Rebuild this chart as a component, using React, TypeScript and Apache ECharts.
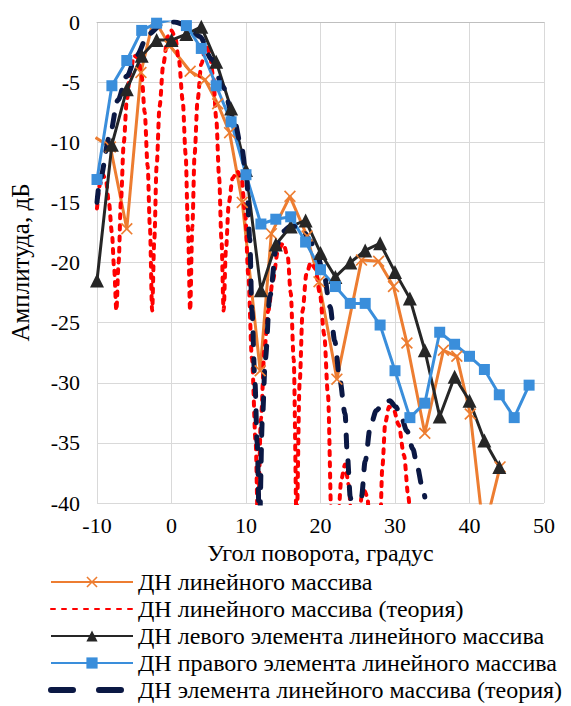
import React, { useEffect, useRef } from "react";
import * as echarts from "echarts";

// ---- Data (angle in degrees, amplitude in dB) ----
const seriesNames = [
  "ДН линейного массива",
  "ДН линейного массива (теория)",
  "ДН левого элемента линейного массива",
  "ДН правого элемента линейного массива",
  "ДН элемента линейного массива (теория)",
];

const xTicks = { min: -10, max: 50, step: 10 };
const yTicks = { min: -40, max: 0, step: 5 };

const arrayMeasured: [number, number][] = [
  [-10.2, -9.6], [-8.2, -10.4], [-6.0, -17.2], [-4.1, -4.2], [-2.4, 0.3],
  [-0.2, -2.0], [2.5, -4.1], [4.5, -4.8], [6.2, -6.8], [7.8, -9.2],
  [9.5, -15.0], [11.9, -29.0], [13.4, -17.6], [15.9, -14.5], [18.2, -17.8],
  [19.8, -21.6], [22.2, -29.7], [25.5, -19.8], [27.8, -19.9], [29.8, -22.0],
  [31.6, -26.7], [34.0, -34.2], [36.5, -27.3], [38.3, -27.8], [40.1, -32.6],
  [41.9, -42.5], [44.1, -37.0],
];

const arrayTheory: [number, number][] = [
  [-10, -15.5], [-9.6, -13.5], [-9.2, -12.7], [-8.8, -13.2], [-8.4, -15], [-8.0, -17.5], [-7.7, -20.5], [-7.4, -24],
  [-7.1, -20], [-6.8, -15], [-6.4, -10], [-6.0, -6.5], [-5.5, -4], [-5.0, -2.8], [-4.5, -3], [-4.0, -4.5], [-3.6, -7.5], [-3.2, -12], [-2.9, -17], [-2.6, -24],
  [-2.3, -18], [-2.0, -12], [-1.6, -7], [-1.1, -3.5], [-0.5, -1.2], [0, -0.7], [0.5, -1.3], [1.0, -3.2], [1.5, -6.5], [1.9, -11], [2.2, -17], [2.5, -24],
  [2.8, -17], [3.1, -11], [3.5, -6.5], [4.0, -3.5], [4.6, -2.0], [5.1, -2.5], [5.6, -4.5], [6.0, -8], [6.4, -13], [6.7, -18], [7.0, -24],
  [7.3, -19], [7.7, -15], [8.2, -13], [8.8, -12.4], [9.4, -13], [9.9, -16], [10.3, -21], [10.8, -28], [11.3, -35], [11.6, -42],
  [12.0, -33], [12.5, -27], [13.0, -24], [13.6, -21.5], [14.3, -19], [15.0, -18.4], [15.6, -19.5], [16.0, -22.5], [16.4, -28], [16.8, -42],
  [17.2, -30], [17.6, -24], [18.1, -21], [18.7, -20], [19.3, -20.5], [19.9, -22.5], [20.5, -26], [21.0, -31], [21.5, -42],
  [22.3, -42], [22.8, -38], [23.3, -36.8], [23.8, -38.5], [24.2, -42],
  [25.2, -42], [25.5, -39.5], [25.9, -39], [26.3, -39.5], [26.6, -42],
  [28.0, -42], [28.3, -37], [28.7, -33.3], [29.2, -32], [29.8, -32.2], [30.5, -33.5], [31.2, -36], [31.8, -39.5], [32.1, -42],
];

const leftElement: [number, number][] = [
  [-10, -21.5], [-8, -10.2], [-6, -5.6], [-4, -2.8], [-2, -1.5], [0, -1.5],
  [2, -1.0], [4, -0.4], [6, -3.3], [8, -7.2], [10, -12.3], [12, -22.3],
  [14, -18.5], [16, -17.0], [18, -16.5], [20, -19.2], [22, -21.2], [24, -20.0],
  [26, -19.0], [28, -18.4], [30, -20.8], [32, -23.0], [34, -27.3], [36, -32.8],
  [38, -29.5], [40, -31.5], [42, -34.8], [44, -37.0],
];

const rightElement: [number, number][] = [
  [-10, -13.1], [-8, -5.3], [-6, -3.2], [-4, -0.7], [-2, -0.1], [0, 0.2],
  [2, -0.3], [4, -2.2], [6, -5.3], [8, -8.3], [10, -12.7], [12, -16.8],
  [14, -16.4], [16, -16.2], [18, -18.3], [20, -20.6], [22, -22.0], [24, -23.4],
  [26, -23.4], [28, -25.2], [30, -29.0], [32, -32.9], [34, -31.7], [36, -25.8],
  [38, -26.8], [40, -27.8], [42, -28.9], [44, -31.0], [46, -32.9], [48, -30.2],
];

const elementTheory: [number, number][] = [
  [-10, -15], [-9.6, -13.1], [-8.3, -9.5], [-7.2, -6.5], [-6, -4.5], [-4.7, -2.8],
  [-3.1, -1.0], [-1.3, -0.2], [0.4, 0], [2.2, -0.3], [3.8, -1.2], [5.4, -3.1],
  [6.9, -5.4], [8.3, -7.9], [9.4, -10.4], [10.1, -13.1], [10.5, -18], [10.8, -24],
  [11.2, -30], [11.5, -35], [11.8, -42], [12.2, -33], [12.6, -28], [13.2, -22.8],
  [14.1, -18.6], [15.0, -17.4], [15.9, -17.0], [16.8, -17.0], [17.7, -17.4], [18.6, -18.2],
  [19.5, -19.3], [20.4, -20.8], [21.3, -23.7], [21.9, -26.5], [22.6, -29.8], [23.3, -32.6],
  [23.6, -36], [24.0, -39.5], [24.4, -42], [25.2, -42], [25.5, -39.5], [26.0, -36.5],
  [26.7, -33.6], [27.5, -32.3], [28.5, -31.6], [29.3, -31.5], [30.1, -32], [30.8, -32.8],
  [31.6, -34], [32.4, -35.5], [33.0, -37], [33.6, -38.5], [34.0, -39.5],
];

const colors = ["#ED7D31", "#FF0000", "#262626", "#3A8EDB", "#0B1844"];

const crossPath =
  "path://M1,0 L5,4 L9,0 L10,1 L6,5 L10,9 L9,10 L5,6 L1,10 L0,9 L4,5 L0,1 Z";

const FONT = "Liberation Serif";

export default function App() {
  const ref = useRef<HTMLDivElement>(null);
  useEffect(() => {
    if (!ref.current) return;
    const chart = echarts.init(ref.current, undefined, { renderer: "svg" });
    chart.setOption({
      animation: false,
      backgroundColor: "#ffffff",
      grid: { left: 97, top: 22, right: 27, bottom: 203 },
      xAxis: {
        type: "value",
        min: xTicks.min,
        max: xTicks.max,
        interval: xTicks.step,
        name: "Угол поворота, градус",
        nameLocation: "middle",
        nameGap: 30,
        nameTextStyle: { fontFamily: FONT, fontSize: 24, color: "#000" },
        axisLine: { show: true, lineStyle: { color: "#bfbfbf", width: 1 } },
        axisTick: { show: false },
        axisLabel: { fontFamily: FONT, fontSize: 22, color: "#000", margin: 11 },
        splitLine: { show: true, lineStyle: { color: "#d9d9d9", width: 1 } },
      },
      yAxis: {
        type: "value",
        min: yTicks.min,
        max: yTicks.max,
        interval: yTicks.step,
        name: "Амплитуда, дБ",
        nameLocation: "middle",
        nameGap: 64,
        nameTextStyle: { fontFamily: FONT, fontSize: 25, color: "#000" },
        axisLine: { show: false },
        axisTick: { show: false },
        axisLabel: { fontFamily: FONT, fontSize: 22, color: "#000", margin: 17 },
        splitLine: { show: true, lineStyle: { color: "#d9d9d9", width: 1 } },
      },
      legend: {
        orient: "vertical",
        left: 48,
        top: 570,
        padding: 0,
        itemWidth: 82,
        itemHeight: 14,
        itemGap: 3,
        textStyle: { fontFamily: FONT, fontSize: 24, color: "#000", lineHeight: 24 },
        data: [
          { name: seriesNames[0] },
          { name: seriesNames[1], itemStyle: { opacity: 0 } },
          { name: seriesNames[2] },
          { name: seriesNames[3] },
          {
            name: seriesNames[4],
            itemStyle: { opacity: 0 },
            lineStyle: { type: [22, 26], width: 6 },
          },
        ],
      },
      series: [
        {
          name: seriesNames[0],
          type: "line",
          data: arrayMeasured,
          symbol: crossPath,
          symbolSize: 12,
          lineStyle: { color: colors[0], width: 3 },
          itemStyle: { color: colors[0] },
        },
        {
          name: seriesNames[1],
          type: "line",
          data: arrayTheory,
          symbol: "none",
          smooth: 0.3,
          smoothMonotone: "x",
          lineStyle: { color: colors[1], width: 4, type: [4, 7], cap: "round" },
          itemStyle: { color: colors[1] },
        },
        {
          name: seriesNames[2],
          type: "line",
          data: leftElement,
          symbol: "triangle",
          symbolSize: 14,
          lineStyle: { color: colors[2], width: 3 },
          itemStyle: { color: colors[2] },
        },
        {
          name: seriesNames[3],
          type: "line",
          data: rightElement,
          symbol: "rect",
          symbolSize: 11,
          lineStyle: { color: colors[3], width: 3 },
          itemStyle: { color: colors[3] },
        },
        {
          name: seriesNames[4],
          type: "line",
          data: elementTheory,
          symbol: "none",
          smooth: 0.3,
          smoothMonotone: "x",
          lineStyle: { color: colors[4], width: 5, type: [12, 14], cap: "round" },
          itemStyle: { color: colors[4] },
        },
      ],
    });
    return () => chart.dispose();
  }, []);
  return (
    <div
      ref={ref}
      style={{ position: "fixed", left: 0, top: 0, width: 571, height: 706, background: "#fff" }}
    />
  );
}
